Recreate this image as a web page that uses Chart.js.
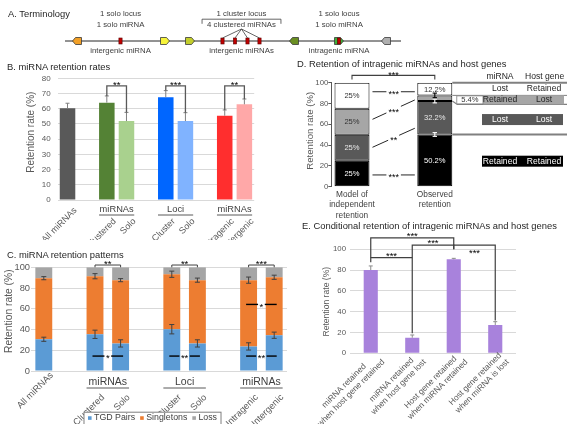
<!DOCTYPE html>
<html><head><meta charset="utf-8">
<script src="https://cdn.jsdelivr.net/npm/chart.js"></script>
<style>
html,body{margin:0;padding:0;background:#fff;}
#fig{position:relative;width:567px;height:424px;overflow:hidden;background:#fff;font-family:'Liberation Sans',Arial,Helvetica,sans-serif;color:#262626;}
#fig canvas{position:absolute;}
.ttl{position:absolute;white-space:nowrap;font-size:9.4px;line-height:12px;height:12px;}
</style></head>
<body><div id="fig">
<canvas id="cA" width="567" height="58" style="left:0;top:0"></canvas>
<canvas id="cB" width="300" height="182" style="left:0;top:58px"></canvas>
<canvas id="cC" width="300" height="179" style="left:0;top:245px"></canvas>
<canvas id="cD" width="267" height="165" style="left:300px;top:60px"></canvas>
<canvas id="cE" width="267" height="196" style="left:300px;top:228px"></canvas>
<div class="ttl" style="left:8px;top:8px">A. Terminology</div>
<div class="ttl" style="left:7px;top:60.5px">B. miRNA retention rates</div>
<div class="ttl" style="left:7px;top:248.5px">C. miRNA retention patterns</div>
<div class="ttl" style="left:297px;top:58px">D. Retention of intragenic miRNAs and host genes</div>
<div class="ttl" style="left:302px;top:220px">E. Conditional retention of intragenic miRNAs and host genes</div>
</div>
<script>
// ================= DATA =================
// A. Terminology (positions along the locus, arbitrary units)
const locusSpan = [0, 336];
const geneX = [12, 100, 125, 229, 274, 321];
const geneDir = [-1, 1, 1, -1, 1, -1];
const mirX = [55.5, 157.5, 170, 182.5, 194.5, 274];
const clusterIdx = [1, 2, 3, 4];
const noteX = [55.5, 176.5, 274];
const topNotes = [['1 solo locus', '1 solo miRNA'], ['1 cluster locus', '4 clustered miRNAs'], ['1 solo locus', '1 solo miRNA']];
const bottomNotes = ['intergenic miRNA', 'intergenic miRNAs', 'intragenic miRNA'];

// B. miRNA retention rates
const catB = ['All miRNAs', '', 'Clustered', 'Solo', '', 'Cluster', 'Solo', '', 'Intragenic', 'Intergenic'];
const rateB = [60.3, null, 64, 51.9, null, 67.5, 51.9, null, 55.4, 62.9];
const errB = [3.3, null, 4.4, 5.7, null, 4.4, 5.5, null, 3.8, 3.5];
const groupB = [['miRNAs', 2, 3], ['Loci', 5, 6], ['miRNAs', 8, 9]];
const sigB = [[2, 3, 75, '**'], [5, 6, 75, '***'], [8, 9, 75, '**']];

// C. miRNA retention patterns
const catC = ['All miRNAs', '', 'Clustered', 'Solo', '', 'Cluster', 'Solo', '', 'Intragenic', 'Intergenic'];
const seriesC = ['TGD Pairs', 'Singletons', 'Loss'];
const tgdC = [30.6, null, 35.4, 26.6, null, 40.3, 26.6, null, 23.7, 34.5];
const singC = [58.9, null, 56.0, 61.0, null, 53.0, 61.0, null, 63.9, 55.9];
const lossC = [10.5, null, 8.6, 12.4, null, 6.7, 12.4, null, 12.4, 9.6];
const errTgdC = [2, null, 4, 3.5, null, 4.5, 3.5, null, 3.5, 3];
const errSingC = [1.5, null, 2.5, 1.5, null, 3, 2, null, 3, 2];
const groupC = [['miRNAs', 2, 3], ['Loci', 5, 6], ['miRNAs', 8, 9]];
const sigCtop = [[2, 3, '**'], [5, 6, '**'], [8, 9, '***']];
const sigCmid = [[2, 3, 14.4, '*'], [5, 6, 14.4, '**'], [8, 9, 14.4, '**'], [8, 9, 64.2, '*']];

// D. Retention of intragenic miRNAs and host genes
const catD = [['Model of', 'independent', 'retention'], '', ['Observed', 'retention']];
const seriesD = ['Retained / Retained', 'Lost / Lost', 'Retained / Lost', 'Lost / Retained'];
const dRR = [25, null, 50.2];
const dLL = [25, null, 32.2];
const dRL = [25, null, 5.4];
const dLR = [25, null, 12.2];
const errObsD = [1.8, 1.8, 2.2, null];
const tableHeadD = ['miRNA', 'Host gene'];
const tableD = [['Retained', 'Retained'], ['Lost', 'Lost'], ['Retained', 'Lost'], ['Lost', 'Retained']];
const sigDlinks = [[91.3, 91.3, '***'], [64.8, 83.4, '***'], [37.9, 56.2, '**'], [11.3, 11.3, '***']];
const sigDtop = '***';

// E. Conditional retention
const catE = [['miRNA retained', 'when host gene retained'], ['miRNA retained', 'when host gene lost'],
              ['Host gene retained', 'when miRNA retained'], ['Host gene retained', 'when miRNA is lost']];
const rateE = [80.1, 15.0, 90.4, 27.2];
const errE = [3.9, 2.6, 0.9, 3.2];
// [barA, barB, bracket level, left leg end, right leg end, label, label side]
const sigE = [[0, 2, 111, 92, 104, '***', 'above'], [1, 2, 104, 19.3, 100, '***', 'above'],
              [0, 1, 92, 87.5, 92, '***', 'above'], [2, 3, 104, 100, 31.5, '***', 'below']];

// ================= STYLE / HELPERS =================
const FONT = "'Liberation Sans', Arial, Helvetica, sans-serif";
Chart.defaults.font.family = FONT;
Chart.defaults.color = '#595959';
Chart.defaults.animation = false;
Chart.defaults.responsive = false;
Chart.defaults.maintainAspectRatio = false;
Chart.defaults.events = [];
Chart.defaults.plugins.legend.display = false;
Chart.defaults.plugins.tooltip.enabled = false;

const colorsB = ['#595959', '', '#548235', '#A9D18E', '', '#0066FF', '#80B3FF', '', '#FF2E2E', '#FFA8A8'];
const colorsC = ['#5B9BD5', '#ED7D31', '#A5A5A5'];
const colorsD = ['#000000', '#595959', '#A6A6A6', '#FFFFFF'];
const labelColD = ['#FFFFFF', '#E8E8E8', '#333333', '#333333'];
const geneColors = ['#F2A027', '#F7F43A', '#C3CE2C', '#6A8F22', '#3FAE3A', '#AFAFAF'];

function f(size, w) { return (w ? w + ' ' : '') + size + 'px ' + FONT; }
function poly(ctx, pts, color, w) {
  ctx.save(); ctx.beginPath();
  pts.forEach((p, i) => i ? ctx.lineTo(p[0], p[1]) : ctx.moveTo(p[0], p[1]));
  ctx.strokeStyle = color; ctx.lineWidth = w; ctx.stroke(); ctx.restore();
}
function text(ctx, t, x, y, size, color, align, base) {
  ctx.save(); ctx.font = f(size); ctx.fillStyle = color; ctx.textAlign = align || 'center';
  ctx.textBaseline = base || 'middle'; ctx.fillText(t, x, y); ctx.restore();
}
function stars(ctx, t, x, yc, size) {
  ctx.save(); ctx.font = f(size || 9.5); ctx.fillStyle = '#000'; ctx.textAlign = 'center';
  ctx.textBaseline = 'alphabetic'; ctx.fillText(t, x, yc + 0.56 * (size || 9.5)); ctx.restore();
}
function starW(ctx, t, size) { ctx.save(); ctx.font = f(size || 9.5); const w = ctx.measureText(t).width; ctx.restore(); return w; }
function gapLine(ctx, x1, y1, x2, y2, gap, color, w) {
  const g = gap / (2 * (x2 - x1));
  const dx = x2 - x1, dy = y2 - y1;
  poly(ctx, [[x1, y1], [x1 + dx * (0.5 - g), y1 + dy * (0.5 - g)]], color, w);
  poly(ctx, [[x1 + dx * (0.5 + g), y1 + dy * (0.5 + g)], [x2, y2]], color, w);
}
function errUp(ctx, x, y0, y1, cap, color, w) {
  poly(ctx, [[x, y0], [x, y1]], color, w);
  poly(ctx, [[x - cap, y1], [x + cap, y1]], color, w);
}
function errBoth(ctx, x, yLo, yHi, cap, color, w) {
  poly(ctx, [[x, yLo], [x, yHi]], color, w);
  poly(ctx, [[x - cap, yLo], [x + cap, yLo]], color, w);
  poly(ctx, [[x - cap, yHi], [x + cap, yHi]], color, w);
}
function yTitle(ctx, t, x, y, size) {
  ctx.save(); ctx.translate(x, y); ctx.rotate(-Math.PI / 2);
  ctx.font = f(size); ctx.fillStyle = '#595959'; ctx.textAlign = 'center'; ctx.textBaseline = 'middle';
  ctx.fillText(t, 0, 0); ctx.restore();
}
function rotLabels(ctx, scale, labels, axisY, groups, c) {
  ctx.save(); ctx.font = f(c.size); ctx.fillStyle = '#595959';
  labels.forEach((lab, i) => {
    if (!lab || (Array.isArray(lab) && !lab.length)) return;
    const lines = Array.isArray(lab) ? lab : [lab];
    const inG = groups.some(g => i >= g[1] && i <= g[2]);
    const x = scale.getPixelForValue(i) + c.dx, y = axisY + (inG ? c.dyG : c.dy);
    const maxW = Math.max(...lines.map(l => ctx.measureText(l).width));
    ctx.save(); ctx.translate(x, y); ctx.rotate(-Math.PI / 4);
    ctx.textAlign = 'center'; ctx.textBaseline = 'middle';
    lines.forEach((l, k) => ctx.fillText(l, -maxW / 2, (k - (lines.length - 1) / 2) * c.lh));
    ctx.restore();
  });
  ctx.restore();
}
function groupLabels(ctx, scale, meta, groups, yText, yLine, size) {
  groups.forEach(([t, a, b]) => {
    const ea = meta.data[a], eb = meta.data[b];
    const x1 = ea.x - ea.width / 2, x2 = eb.x + eb.width / 2;
    text(ctx, t, (ea.x + eb.x) / 2, yText, size, '#404040');
    poly(ctx, [[x1, yLine], [x2, yLine]], '#595959', 1);
  });
}
function fixedBox(area, W, H) {
  return {
    layout: { padding: { left: 0, top: area.top, right: W - area.right, bottom: 0 } },
    yFit: s => { s.width = area.left; },
    xFit: s => { s.height = H - area.bottom; }
  };
}

// ================= A =================
function drawGene(ctx, cx, cy, dir, fill) {
  const w = 9, h = 7, p = 3, l = cx - w / 2, r = cx + w / 2, t = cy - h / 2, b = cy + h / 2;
  ctx.save(); ctx.beginPath();
  if (dir > 0) { ctx.moveTo(l, t); ctx.lineTo(r - p, t); ctx.lineTo(r, cy); ctx.lineTo(r - p, b); ctx.lineTo(l, b); }
  else { ctx.moveTo(r, t); ctx.lineTo(l + p, t); ctx.lineTo(l, cy); ctx.lineTo(l + p, b); ctx.lineTo(r, b); }
  ctx.closePath(); ctx.fillStyle = fill; ctx.fill(); ctx.strokeStyle = '#3a3a3a'; ctx.lineWidth = 0.8; ctx.stroke();
  ctx.restore();
}
function drawMir(ctx, cx, cy) {
  ctx.save(); ctx.fillStyle = '#C00000'; ctx.strokeStyle = '#5a0000'; ctx.lineWidth = 0.6;
  ctx.fillRect(cx - 1.6, cy - 3, 3.2, 6); ctx.strokeRect(cx - 1.6, cy - 3, 3.2, 6); ctx.restore();
}
const pluginA = { id: 'pA', afterDatasetsDraw(chart) {
  const { ctx, scales: { x, y } } = chart;
  const cy = y.getPixelForValue(0);
  geneX.forEach((g, i) => drawGene(ctx, x.getPixelForValue(g), cy, geneDir[i], geneColors[i]));
  mirX.forEach(m => drawMir(ctx, x.getPixelForValue(m), cy));
  noteX.forEach((n, i) => {
    const px = x.getPixelForValue(n);
    text(ctx, topNotes[i][0], px, 14, 7.8, '#404040');
    text(ctx, topNotes[i][1], px, 24.6, 7.8, '#404040');
    text(ctx, bottomNotes[i], px, 50.5, 7.8, '#404040');
  });
  const cx = x.getPixelForValue(noteX[1]);
  ctx.save(); ctx.font = f(7.8); const hw = ctx.measureText(topNotes[1][1]).width / 2 + 5; ctx.restore();
  poly(ctx, [[cx - hw, 23.8], [cx - hw, 19.2], [cx + hw, 19.2], [cx + hw, 23.8]], '#404040', 0.8);
  clusterIdx.forEach(k => poly(ctx, [[cx, 29], [x.getPixelForValue(mirX[k]), cy - 3]], '#404040', 0.8));
} };
new Chart(document.getElementById('cA'), {
  type: 'scatter',
  data: { datasets: [{ type: 'line', data: locusSpan.map(v => ({ x: v, y: 0 })), borderColor: '#262626', borderWidth: 1, pointRadius: 0 }] },
  options: {
    layout: { padding: { left: 65, right: 166, top: 24, bottom: 0 } },
    scales: { x: { type: 'linear', min: 0, max: 336, display: false }, y: { min: -1, max: 1, display: false } }
  },
  plugins: [pluginA]
});

// ================= B =================
const boxB = fixedBox({ left: 57.7, right: 254.2, top: 20.3, bottom: 142 }, 300, 182);
const pluginB = { id: 'pB', afterDraw(chart) {
  const { ctx, scales: { x, y }, chartArea } = chart;
  const meta = chart.getDatasetMeta(0);
  rateB.forEach((v, i) => { if (v == null) return;
    errUp(ctx, x.getPixelForValue(i), y.getPixelForValue(v), y.getPixelForValue(v + errB[i]), 2, '#7F7F7F', 1); });
  sigB.forEach(([a, b, lev, lab]) => {
    const xa = x.getPixelForValue(a), xb = x.getPixelForValue(b), yl = y.getPixelForValue(lev);
    poly(ctx, [[xa, y.getPixelForValue(rateB[a] + errB[a])], [xa, yl], [xb, yl], [xb, y.getPixelForValue(rateB[b] + errB[b])]], '#595959', 1.3);
    stars(ctx, lab, (xa + xb) / 2, yl - 3, 9.5);
  });
  groupLabels(ctx, x, meta, groupB, chartArea.bottom + 9.3, chartArea.bottom + 15, 9.3);
  rotLabels(ctx, x, catB, chartArea.bottom, groupB, { size: 9, dx: 8, dy: 9, dyG: 20, lh: 10 });
  yTitle(ctx, 'Retention rate (%)', 31, (chartArea.top + chartArea.bottom) / 2 - 7, 10);
} };
new Chart(document.getElementById('cB'), {
  type: 'bar',
  data: { labels: catB, datasets: [{ data: rateB, backgroundColor: colorsB, barPercentage: 0.79, categoryPercentage: 1 }] },
  options: {
    layout: boxB.layout,
    scales: {
      x: { grid: { display: false }, border: { display: false }, ticks: { display: false }, afterFit: boxB.xFit },
      y: { min: 0, max: 80, ticks: { stepSize: 10, padding: 7, font: { size: 8 } }, grid: { color: '#D9D9D9', drawTicks: false }, border: { display: false }, afterFit: boxB.yFit }
    }
  },
  plugins: [pluginB]
});

// ================= C =================
const boxC = fixedBox({ left: 31, right: 287, top: 22.3, bottom: 126 }, 300, 179);
const pluginC = { id: 'pC', afterDraw(chart) {
  const { ctx, scales: { x, y }, chartArea } = chart;
  const meta = chart.getDatasetMeta(0);
  tgdC.forEach((v, i) => { if (v == null) return;
    const px = x.getPixelForValue(i);
    errBoth(ctx, px, y.getPixelForValue(v - errTgdC[i]), y.getPixelForValue(v + errTgdC[i]), 2.5, '#404040', 1);
    const top = v + singC[i];
    errBoth(ctx, px, y.getPixelForValue(top - errSingC[i]), y.getPixelForValue(top + errSingC[i]), 2.5, '#404040', 1);
  });
  sigCtop.forEach(([a, b, lab]) => {
    const xa = x.getPixelForValue(a), xb = x.getPixelForValue(b), yl = y.getPixelForValue(102.2), y0 = y.getPixelForValue(100);
    poly(ctx, [[xa, y0], [xa, yl], [xb, yl], [xb, y0]], '#404040', 1);
    stars(ctx, lab, (xa + xb) / 2, y.getPixelForValue(105), 9.5);
  });
  sigCmid.forEach(([a, b, lev, lab]) => {
    const xa = x.getPixelForValue(a) - 2.5, xb = x.getPixelForValue(b) + 2.5, yl = y.getPixelForValue(lev);
    gapLine(ctx, xa, yl, xb, yl, starW(ctx, lab) + 3, '#000', 1.4);
    stars(ctx, lab, (xa + xb) / 2, yl, 9.5);
  });
  groupLabels(ctx, x, meta, groupC, chartArea.bottom + 10.7, chartArea.bottom + 17, 10.5);
  rotLabels(ctx, x, catC, chartArea.bottom, groupC, { size: 9.3, dx: 8, dy: 3, dyG: 25, lh: 10 });
  yTitle(ctx, 'Retention rate (%)', 9.5, (chartArea.top + chartArea.bottom) / 2 - 8, 10.3);
  // legend
  ctx.save(); ctx.font = f(8.8);
  const items = chart.data.datasets.map(d => ({ t: d.label, c: d.backgroundColor, w: ctx.measureText(d.label).width }));
  const sq = 3.6, g1 = 2.5, g2 = 5, pad = 4;
  const total = items.reduce((s, it) => s + sq + g1 + it.w, 0) + g2 * (items.length - 1) + 2 * pad;
  const left = 152 - total / 2, top = 166.7, h = 12.3, cy = top + h / 2 + 0.2;
  ctx.fillStyle = '#fff'; ctx.fillRect(left + 0.5, top + 0.5, total, h);
  ctx.strokeStyle = '#7F7F7F'; ctx.lineWidth = 1; ctx.strokeRect(left + 0.5, top + 0.5, total, h);
  let cx = left + pad + 0.5;
  items.forEach(it => {
    ctx.fillStyle = it.c; ctx.fillRect(cx, cy - sq / 2, sq, sq); cx += sq + g1;
    ctx.fillStyle = '#404040'; ctx.textAlign = 'left'; ctx.textBaseline = 'middle'; ctx.fillText(it.t, cx, cy); cx += it.w + g2;
  });
  ctx.restore();
} };
new Chart(document.getElementById('cC'), {
  type: 'bar',
  data: { labels: catC, datasets: [
    { label: seriesC[0], data: tgdC, backgroundColor: colorsC[0] },
    { label: seriesC[1], data: singC, backgroundColor: colorsC[1] },
    { label: seriesC[2], data: lossC, backgroundColor: colorsC[2] }
  ].map(d => Object.assign(d, { barPercentage: 0.66, categoryPercentage: 1 })) },
  options: {
    layout: boxC.layout,
    scales: {
      x: { stacked: true, grid: { display: false }, border: { display: false }, ticks: { display: false }, afterFit: boxC.xFit },
      y: { stacked: true, min: 0, max: 100, ticks: { stepSize: 10, padding: 1, font: { size: 9.3 } }, grid: { color: '#D9D9D9', drawTicks: false }, border: { display: false }, afterFit: boxC.yFit }
    }
  },
  plugins: [pluginC]
});

// ================= D =================
const boxD = fixedBox({ left: 31.3, right: 155.5, top: 22.7, bottom: 126.7 }, 267, 165);
const pluginD = { id: 'pD', afterDraw(chart) {
  const { ctx, scales: { x, y } } = chart;
  const P = v => y.getPixelForValue(v);
  const dsVals = chart.data.datasets.map(d => d.data);
  chart.data.datasets.forEach((d, di) => {
    const meta = chart.getDatasetMeta(di);
    d.data.forEach((v, i) => {
      if (v == null || (di === 2 && i === 2)) return;
      const el = meta.data[i];
      text(ctx, v + '%', el.x, (el.y + el.base) / 2 + 0.5, 7.6, labelColD[di]);
    });
  });
  const obs = chart.getDatasetMeta(0).data[2], mod = chart.getDatasetMeta(0).data[0];
  const oL = obs.x - obs.width / 2, oR = obs.x + obs.width / 2, mR = mod.x + mod.width / 2;
  let cum = 0;
  dsVals.forEach((vals, di) => {
    cum += vals[2];
    if (errObsD[di] == null) return;
    const col = di === 2 ? '#000' : '#FFFFFF';
    errBoth(ctx, obs.x, P(cum - errObsD[di]), P(cum + errObsD[di]), 2.2, col, 1.1);
  });
  const tops = [dsVals[0][2], dsVals[0][2] + dsVals[1][2], dsVals[0][2] + dsVals[1][2] + dsVals[2][2], 100];
  const W = chart.width;
  poly(ctx, [[oR, P(100)], [W, P(100)]], '#808080', 2);
  poly(ctx, [[oR, P(tops[2])], [W, P(tops[2])]], '#808080', 1);
  const lgBottom = P(tops[2]) + 9;
  poly(ctx, [[oR, P(tops[1])], [oR + 5, lgBottom], [W, lgBottom]], '#808080', 1.2);
  poly(ctx, [[oR, P(tops[0])], [W, P(tops[0])]], '#808080', 2);
  const c1 = 200, c2 = 244, bandL = 182, bandR = 263;
  text(ctx, tableHeadD[0], c1, 16.7, 8.6, '#262626');
  text(ctx, tableHeadD[1], 225, 16.7, 8.6, '#262626', 'left');
  const yW = (P(100) + P(tops[2])) / 2;
  text(ctx, tableD[3][0], c1, yW, 8.6, '#262626'); text(ctx, tableD[3][1], c2, yW, 8.6, '#262626');
  ctx.save(); ctx.fillStyle = colorsD[2]; ctx.fillRect(bandL + 1, P(tops[2]), bandR - bandL, lgBottom - P(tops[2]));
  ctx.fillStyle = '#fff'; ctx.fillRect(oR + 4.5, P(tops[2]) + 0.5, bandL + 1 - oR - 4.5, lgBottom - P(tops[2]) - 1);
  ctx.strokeStyle = '#808080'; ctx.lineWidth = 0.8; ctx.strokeRect(oR + 4.5, P(tops[2]) + 0.5, bandL + 1 - oR - 4.5, lgBottom - P(tops[2]) - 1);
  ctx.restore();
  const yL = (P(tops[2]) + lgBottom) / 2;
  text(ctx, dsVals[2][2] + '%', (oR + 4.5 + bandL + 1) / 2, yL, 7.6, '#333333');
  text(ctx, tableD[2][0], c1, yL, 8.6, '#262626'); text(ctx, tableD[2][1], c2, yL, 8.6, '#262626');
  const yD = P((tops[0] + tops[1]) / 2) + 1.8;
  ctx.save(); ctx.fillStyle = colorsD[1]; ctx.fillRect(bandL, yD - 5.5, bandR - bandL, 11); ctx.restore();
  text(ctx, tableD[1][0], c1, yD, 8.6, '#FFFFFF'); text(ctx, tableD[1][1], c2, yD, 8.6, '#FFFFFF');
  const yB = P(tops[0] / 2) + 0.6;
  ctx.save(); ctx.fillStyle = colorsD[0]; ctx.fillRect(bandL, yB - 5.5, bandR - bandL, 11); ctx.restore();
  text(ctx, tableD[0][0], c1, yB, 8.6, '#FFFFFF'); text(ctx, tableD[0][1], c2, yB, 8.6, '#FFFFFF');
  const yTop = P(107), yLeg = P(103);
  poly(ctx, [[mod.x, yLeg], [mod.x, yTop], [obs.x, yTop], [obs.x, yLeg]], '#404040', 1.1);
  stars(ctx, sigDtop, (mod.x + obs.x) / 2, P(109.8), 9);
  sigDlinks.forEach(([a, b, lab]) => {
    const x1 = mR + 3, x2 = oL - 2.5;
    gapLine(ctx, x1, P(a), x2, P(b), starW(ctx, lab, 9) + 4, '#262626', 1);
    stars(ctx, lab, (x1 + x2) / 2, (P(a) + P(b)) / 2, 9);
  });
  yTitle(ctx, 'Retention rate (%)', 10, 70.8, 9.6);
} };
new Chart(document.getElementById('cD'), {
  type: 'bar',
  data: { labels: catD, datasets: [dRR, dLL, dRL, dLR].map((d, i) => ({
    label: seriesD[i], data: d, backgroundColor: colorsD[i], borderColor: '#000', borderWidth: 1, borderSkipped: false,
    barPercentage: 0.845, categoryPercentage: 1 })) },
  options: {
    layout: boxD.layout,
    scales: {
      x: { stacked: true, grid: { display: false, drawTicks: false }, border: { display: false },
           ticks: { padding: 2.5, maxRotation: 0, minRotation: 0, autoSkip: false, color: '#404040', font: { size: 8.3, lineHeight: 1.27 } }, afterFit: boxD.xFit },
      y: { stacked: true, min: 0, max: 100, ticks: { stepSize: 20, padding: 0, font: { size: 7.8 } },
           grid: { drawOnChartArea: false, drawTicks: true, tickLength: 3, color: '#595959' }, border: { display: true, color: '#595959' }, afterFit: boxD.yFit }
    }
  },
  plugins: [pluginD]
});

// ================= E =================
const boxE = fixedBox({ left: 50, right: 216, top: 21.3, bottom: 125.3 }, 267, 196);
const pluginE = { id: 'pE', afterDraw(chart) {
  const { ctx, scales: { x, y }, chartArea } = chart;
  const P = v => y.getPixelForValue(v);
  rateE.forEach((v, i) => errUp(ctx, x.getPixelForValue(i), P(v), P(v + errE[i]), 2, '#8C8C8C', 1));
  sigE.forEach(([a, b, lev, la, lb, lab, side]) => {
    const xa = x.getPixelForValue(a), xb = x.getPixelForValue(b), yl = P(lev);
    poly(ctx, [[xa, P(la)], [xa, yl], [xb, yl], [xb, P(lb)]], '#404040', 1.2);
    stars(ctx, lab, (xa + xb) / 2, side === 'below' ? yl + 6 : yl - 4, 9.5);
  });
  rotLabels(ctx, x, catE, chartArea.bottom, [], { size: 8.3, dx: 9, dy: 4, dyG: 4, lh: 10 });
  yTitle(ctx, 'Retention rate (%)', 26.7, 73.7, 8.6);
} };
new Chart(document.getElementById('cE'), {
  type: 'bar',
  data: { labels: catE, datasets: [{ data: rateE, backgroundColor: '#A882DC', barPercentage: 0.34, categoryPercentage: 1 }] },
  options: {
    layout: boxE.layout,
    scales: {
      x: { grid: { display: false }, border: { display: false }, ticks: { display: false }, afterFit: boxE.xFit },
      y: { min: 0, max: 100, ticks: { stepSize: 10, padding: 4, font: { size: 7.8 } }, grid: { color: '#D9D9D9', drawTicks: false }, border: { display: false }, afterFit: boxE.yFit }
    }
  },
  plugins: [pluginE]
});
</script>
</body></html>
